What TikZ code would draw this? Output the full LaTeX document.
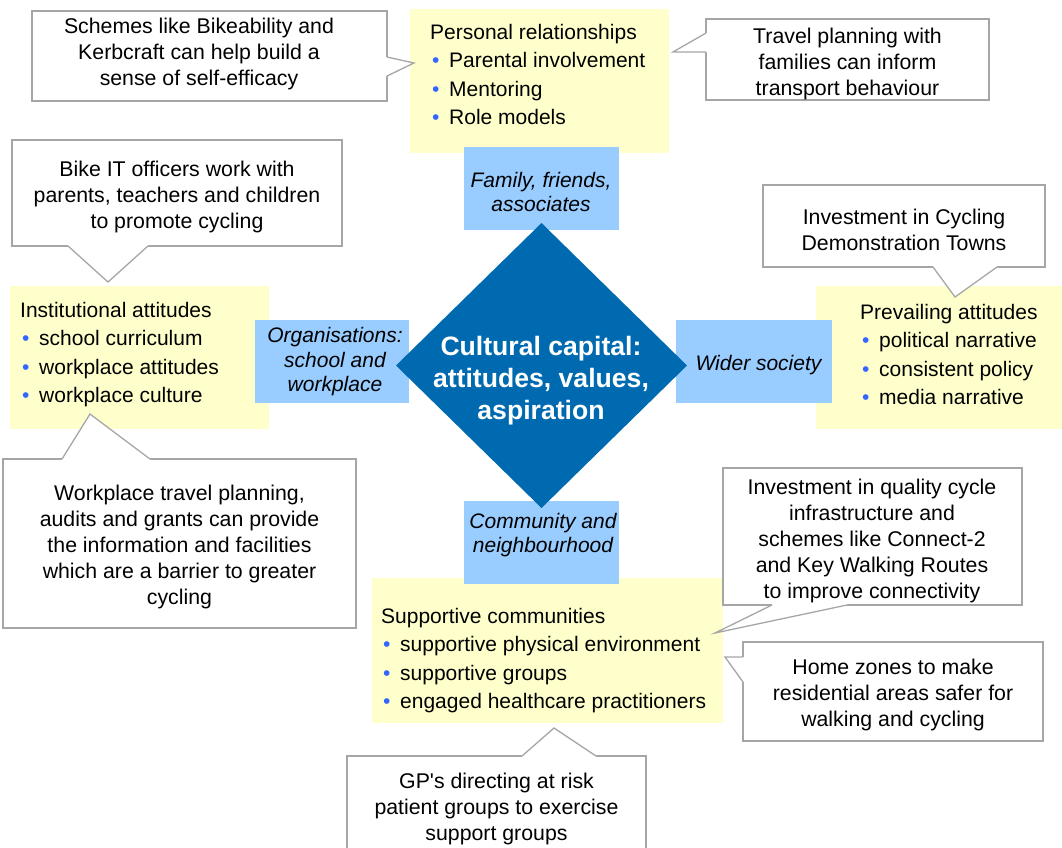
\documentclass[tikz,border=0pt]{standalone}
\usepackage{fontspec}
\setmainfont{Liberation Sans}
\usetikzlibrary{shapes.geometric}
\definecolor{yel}{RGB}{255,255,204}
\definecolor{lblue}{RGB}{153,204,255}
\definecolor{dblue}{RGB}{0,106,176}
\definecolor{bul}{RGB}{51,102,255}
\definecolor{cgray}{RGB}{166,166,166}
\newcommand\yb{\hspace*{2pt}\makebox[17pt][l]{\textcolor{bul}{\textbullet}}}
\begin{document}
\begin{tikzpicture}[x=1pt,y=-1pt,
 yellowbox/.style={rectangle, fill=yel, inner sep=0, outer sep=0},
 bluebox/.style={rectangle, fill=lblue, inner sep=0, outer sep=0},
 yellowtext/.style={anchor=west, align=left, inner sep=0, font=\fontsize{21}{28.5}\selectfont},
 bluetext/.style={align=center, inner sep=0, font=\fontsize{21}{24.5}\selectfont\itshape},
 calloutbox/.style={rectangle, draw=cgray, line width=1.3pt, fill=white, inner sep=0, outer sep=0},
 callouttext/.style={align=center, inner sep=0, font=\fontsize{21.3}{26}\selectfont},
 pointerline/.style={draw=cgray, line width=1.3pt, line join=miter},
 hubtext/.style={align=center, text=white, inner sep=0, font=\fontsize{26.6}{32}\selectfont\bfseries}]

\useasboundingbox (0,0) rectangle (1062,847);
\clip (0,0) rectangle (1062,847);

% yellow boxes
\node[yellowbox, minimum width=259, minimum height=144] (yT) at (539.5,81) {};
\node[yellowbox, minimum width=259, minimum height=143] (yL) at (139.5,357.5) {};
\node[yellowbox, minimum width=246, minimum height=143] (yR) at (939,357.5) {};
\node[yellowbox, minimum width=351, minimum height=145] (yB) at (547.5,650.5) {};

\node[yellowtext] (yTt) at (430,74.5) {Personal relationships\\ \yb Parental involvement\\ \yb Mentoring\\ \yb Role models};
\node[yellowtext] (yLt) at (20,354.5) {Institutional attitudes\\ \yb school curriculum\\ \yb workplace attitudes\\ \yb workplace culture};
\node[yellowtext] (yRt) at (860,354.5) {Prevailing attitudes\\ \yb political narrative\\ \yb consistent policy\\ \yb media narrative};
\node[yellowtext] (yBt) at (381,660.5) {Supportive communities\\ \yb supportive physical environment\\ \yb supportive groups\\ \yb engaged healthcare practitioners};

% blue boxes
\node[bluebox, minimum width=155, minimum height=83] (bT) at (541.5,188.5) {};
\node[bluebox, minimum width=154, minimum height=83] (bL) at (332,361.5) {};
\node[bluebox, minimum width=156, minimum height=83] (bR) at (754,361.5) {};
\node[bluebox, minimum width=155, minimum height=83] (bB) at (541.5,542.5) {};
\node[bluetext] (bTt) at (541,192) {Family, friends,\\associates};
\node[bluetext] (bLt) at (335,362) {Organisations:\\school and\\workplace};
\node[bluetext] (bRt) at (758.5,365) {Wider society};
\node[bluetext] (bBt) at (543,535) {Community and\\neighbourhood};

% hub
\node[diamond, fill=dblue, minimum width=291, minimum height=285, inner sep=0, outer sep=0] (hub) at (541.5,365.5) {};
\node[hubtext] (hubt) at (541,380.5) {Cultural capital:\\attitudes, values,\\aspiration};

% callout 1 (pointer right)
\node[calloutbox, minimum width=355, minimum height=90] (c1) at (209.5,56) {};
\node[callouttext] (c1t) at (199,53.5) {Schemes like Bikeability and\\Kerbcraft can help build a\\sense of self-efficacy};
\coordinate (c1tip) at (414,63);
\coordinate (c1a) at (c1.east |- 0,57);
\coordinate (c1b) at (c1.east |- 0,76);
\fill[white] ([xshift=-2pt]c1a) -- (c1a) -- (c1tip) -- (c1b) -- ([xshift=-2pt]c1b) -- cycle;
\draw[pointerline] (c1a) -- (c1tip) -- (c1b);

% callout 2 (pointer left)
\node[calloutbox, minimum width=283, minimum height=81] (c2) at (847.5,59.5) {};
\node[callouttext] (c2t) at (847.5,63.5) {Travel planning with\\families can inform\\transport behaviour};
\coordinate (c2tip) at (673,52);
\coordinate (c2a) at (c2.west |- 0,33);
\coordinate (c2b) at (c2.west |- 0,52);
\fill[white] ([xshift=2pt]c2a) -- (c2a) -- (c2tip) -- (c2b) -- ([xshift=2pt]c2b) -- cycle;
\draw[pointerline] (c2a) -- (c2tip) -- (c2b);

% callout 3 (pointer down)
\node[calloutbox, minimum width=330, minimum height=106] (c3) at (177,193) {};
\node[callouttext] (c3t) at (177,196.5) {Bike IT officers work with\\parents, teachers and children\\to promote cycling};
\coordinate (c3tip) at (108,282);
\coordinate (c3a) at (c3.south -| 68,0);
\coordinate (c3b) at (c3.south -| 148,0);
\fill[white] ([yshift=2pt]c3a) -- (c3a) -- (c3tip) -- (c3b) -- ([yshift=2pt]c3b) -- cycle;
\draw[pointerline] (c3a) -- (c3tip) -- (c3b);

% callout 4 (pointer down)
\node[calloutbox, minimum width=282, minimum height=82] (c4) at (904,226) {};
\node[callouttext] (c4t) at (904,230) {Investment in Cycling\\Demonstration Towns};
\coordinate (c4tip) at (955,297);
\coordinate (c4a) at (c4.south -| 933,0);
\coordinate (c4b) at (c4.south -| 997,0);
\fill[white] ([yshift=2pt]c4a) -- (c4a) -- (c4tip) -- (c4b) -- ([yshift=2pt]c4b) -- cycle;
\draw[pointerline] (c4a) -- (c4tip) -- (c4b);

% callout 5 (pointer up)
\node[calloutbox, minimum width=353, minimum height=169] (c5) at (179.5,543.5) {};
\node[callouttext] (c5t) at (179.5,546.5) {Workplace travel planning,\\audits and grants can provide\\the information and facilities\\which are a barrier to greater\\cycling};
\coordinate (c5tip) at (90,414);
\coordinate (c5a) at (c5.north -| 62,0);
\coordinate (c5b) at (c5.north -| 150,0);
\fill[white] ([yshift=-2pt]c5a) -- (c5a) -- (c5tip) -- (c5b) -- ([yshift=-2pt]c5b) -- cycle;
\draw[pointerline] (c5a) -- (c5tip) -- (c5b);

% callout 6 (pointer down-left)
\node[calloutbox, minimum width=299, minimum height=137] (c6) at (872.5,536.5) {};
\node[callouttext] (c6t) at (872,541) {Investment in quality cycle\\infrastructure and\\schemes like Connect-2\\and Key Walking Routes\\to improve connectivity};
\coordinate (c6tip) at (715,633);
\coordinate (c6a) at (c6.south -| 772,0);
\coordinate (c6b) at (c6.south -| 847,0);
\fill[white] ([yshift=2pt]c6a) -- (c6a) -- (c6tip) -- (c6b) -- ([yshift=2pt]c6b) -- cycle;
\draw[pointerline] (c6a) -- (c6tip) -- (c6b);

% callout 7 (pointer left)
\node[calloutbox, minimum width=300, minimum height=99] (c7) at (893,691.5) {};
\node[callouttext] (c7t) at (893,694.5) {Home zones to make\\residential areas safer for\\walking and cycling};
\coordinate (c7tip) at (725,657);
\coordinate (c7a) at (c7.west |- 0,657);
\coordinate (c7b) at (c7.west |- 0,682);
\fill[white] ([xshift=2pt]c7a) -- (c7a) -- (c7tip) -- (c7b) -- ([xshift=2pt]c7b) -- cycle;
\draw[pointerline] (c7a) -- (c7tip) -- (c7b);

% callout 8 (pointer up)
\node[calloutbox, minimum width=299, minimum height=104] (c8) at (496.5,808) {};
\node[callouttext] (c8t) at (496.5,808.5) {GP\textquotesingle s directing at risk\\patient groups to exercise\\support groups};
\coordinate (c8tip) at (554,728);
\coordinate (c8a) at (c8.north -| 522,0);
\coordinate (c8b) at (c8.north -| 596,0);
\fill[white] ([yshift=-2pt]c8a) -- (c8a) -- (c8tip) -- (c8b) -- ([yshift=-2pt]c8b) -- cycle;
\draw[pointerline] (c8a) -- (c8tip) -- (c8b);
\end{tikzpicture}
\end{document}
